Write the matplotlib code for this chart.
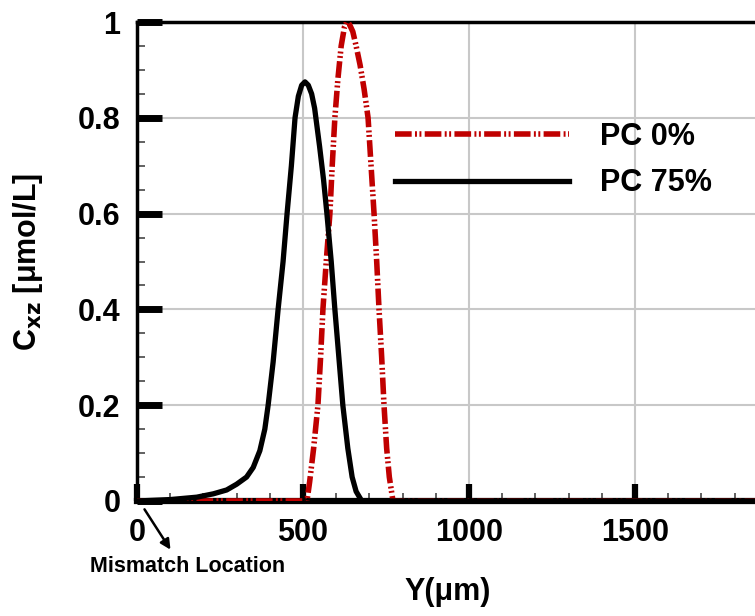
import matplotlib
matplotlib.use('Agg')
import matplotlib.pyplot as plt
from matplotlib.ticker import MultipleLocator, FixedLocator

# concentration profiles along Y (um)
y_pc75 = [0, 100, 180, 230, 270, 300, 330, 350, 370, 385, 395, 410, 425, 440,
          452, 465, 476, 486, 496, 506, 516, 526, 535, 550, 562, 572, 585, 596,
          608, 620, 635, 648, 660, 677, 700, 2000]
c_pc75 = [0, 0.003, 0.008, 0.015, 0.023, 0.035, 0.05, 0.07, 0.105, 0.15, 0.2,
          0.29, 0.4, 0.5, 0.6, 0.7, 0.8, 0.845, 0.868, 0.875, 0.868, 0.85,
          0.82, 0.74, 0.67, 0.6, 0.5, 0.4, 0.3, 0.2, 0.11, 0.05, 0.02, 0.0,
          0.0, 0.0]

y_pc0 = [0, 500, 512, 520, 532, 545, 553, 560, 570, 581, 588, 596, 605, 615,
         625, 632, 640, 650, 660, 672, 684, 696, 705, 714, 722, 729, 737, 744,
         752, 760, 771, 800, 2000]
c_pc0 = [0, 0, 0, 0.04, 0.11, 0.2, 0.3, 0.4, 0.5, 0.6, 0.7, 0.8, 0.88, 0.95,
         0.99, 1.0, 0.995, 0.98, 0.95, 0.91, 0.86, 0.8, 0.7, 0.6, 0.5, 0.4,
         0.3, 0.2, 0.11, 0.05, 0.0, 0.0, 0.0]

labels = ['PC 0%', 'PC 75%']
x_ticks = [0, 500, 1000, 1500]
y_ticks = [0, 0.2, 0.4, 0.6, 0.8, 1]
y_ticklabels = ['0', '0.2', '0.4', '0.6', '0.8', '1']

plt.rcParams['font.family'] = ['Liberation Sans', 'DejaVu Sans']
plt.rcParams['font.weight'] = 'bold'

fig = plt.figure(figsize=(7.55, 6.16), dpi=100)
# axes run past the right edge: the original figure is cropped there
ax = fig.add_axes([137 / 755, 115 / 616, 664 / 755, 479 / 616])

red = '#c00000'
ax.plot(y_pc0, c_pc0, color=red, lw=4.0,
        dashes=(3.0, 0.6, 0.35, 0.45, 0.35, 0.6), label=labels[0], zorder=3)
ax.plot(y_pc75, c_pc75, color='black', lw=3.8, label=labels[1], zorder=4)

ax.set_xlim(0, 2000)
ax.set_ylim(0, 1)

# ===== ticks =====
ax.xaxis.set_major_locator(FixedLocator(x_ticks))
ax.xaxis.set_minor_locator(MultipleLocator(100))
ax.set_yticks(y_ticks, y_ticklabels)
ax.yaxis.set_minor_locator(MultipleLocator(0.05))
ax.xaxis.set_major_formatter(lambda v, p: f'{v:.0f}')

ax.tick_params(axis='y', which='major', direction='in', length=18, width=5,
               labelsize=22, pad=12)
ax.tick_params(axis='x', which='major', direction='in', length=12, width=4.5,
               labelsize=22, pad=12)
ax.tick_params(which='minor', direction='in', length=6, width=1.3,
               color='#555555')
ax.tick_params(right=False, top=False, which='both')

# ===== grid / spines =====
ax.grid(which='major', color='#c8c8c8', lw=1.5, zorder=0)
ax.set_axisbelow(True)
ax.spines['left'].set_linewidth(2.5)
ax.spines['top'].set_linewidth(2.5)
ax.spines['bottom'].set_linewidth(4.5)
ax.spines['right'].set_visible(False)

# ===== labels =====
ax.set_ylabel(r'C$_{\mathbf{xz}}$ [μmol/L]', fontsize=22, fontweight='bold')
ax.yaxis.set_label_coords(-0.139, 0.5)
ax.set_xlabel('Y(μm)', fontsize=22, fontweight='bold')
ax.xaxis.set_label_coords(0.468, -0.159)

ax.legend(loc='center left', bbox_to_anchor=(0.389, 0.712), frameon=False,
          fontsize=22, handlelength=5.7, handletextpad=1.0, labelspacing=0.55,
          borderpad=0, borderaxespad=0)

# mismatch arrow + note (figure pixels are measured from the bottom)
ax.annotate('', xy=(172, 616 - 552), xycoords='figure pixels',
            xytext=(143, 616 - 507), textcoords='figure pixels',
            arrowprops=dict(arrowstyle='-|>', color='black', lw=1.8,
                            mutation_scale=15), annotation_clip=False)
fig.text(188 / 755, 1 - 567 / 616, 'Mismatch Location',
         family='Liberation Sans', fontsize=15.5, fontweight='bold',
         ha='center', va='center')

fig.savefig('out.png', dpi=100)
